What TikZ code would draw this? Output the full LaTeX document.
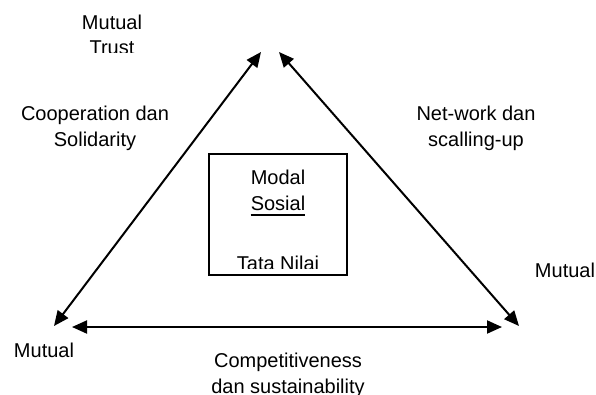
\documentclass[tikz,border=0pt]{standalone}
\usepackage{fontspec}
\setmainfont{Liberation Sans}
\usetikzlibrary{arrows.meta,calc}
\begin{document}
\begin{tikzpicture}[x=1pt,y=-1pt,
  lbl/.style={inner sep=0pt,align=center,font=\fontsize{20}{26}\selectfont},
  arr/.style={line width=2pt,{Triangle[length=15pt,width=13pt]}-{Triangle[length=15pt,width=13pt]}},
  boxst/.style={draw,line width=1.3pt,minimum width=138pt,minimum height=121pt,inner sep=0pt}]
\useasboundingbox (0,0) rectangle (596,394);
\fill[white] (0,0) rectangle (596,394);
% arrow end points
\coordinate (TL) at (261,52);
\coordinate (TR) at (279,52);
\coordinate (BL) at (54,326);
\coordinate (BR) at (519,326);
\coordinate (HL) at (72,327);
\coordinate (HR) at (502,327);
\draw[arr] (BL) -- (TL);
\draw[arr] (TR) -- (BR);
\draw[arr] (HL) -- (HR);
% central box
\node[boxst] (box) at (278,214.5) {};
\node[lbl] (modal) at (278,177) {Modal};
\node[lbl] (sosial) at (278,203) {Sosial};
\draw[line width=1.4pt] ($(sosial.base west)+(0,5)$) -- ($(sosial.base east)+(0,5)$);
\begin{scope}
\clip (200,240) rectangle (360,268);
\node[lbl] (tata) at (278,263) {Tata Nilai};
\end{scope}
% labels
\node[lbl] (mt1) at (112,22) {Mutual};
\begin{scope}
\clip (60,35) rectangle (170,52);
\node[lbl] (trust) at (112,48) {Trust};
\end{scope}
\node[lbl] (coop) at (95,128.5) {Cooperation dan\\Solidarity};
\node[lbl] (net) at (476,128.5) {Net-work dan\\scalling-up};
\node[lbl] (mr) at (565,270) {Mutual};
\node[lbl] (ml) at (44,350) {Mutual};
\node[lbl] (comp) at (288,375) {Competitiveness\\dan sustainability};
\end{tikzpicture}
\end{document}
